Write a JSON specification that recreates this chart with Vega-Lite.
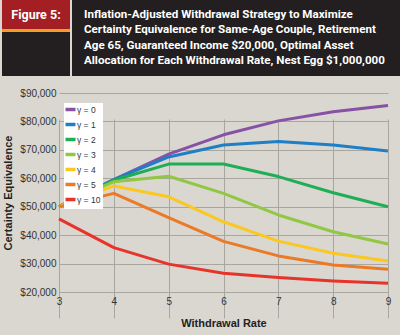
{
  "$schema": "https://vega.github.io/schema/vega-lite/v6.json",
  "background": "#d9d7d0",
  "padding": 0,
  "spacing": 0,
  "resolve": {"legend": {"color": "independent"}},
  "config": {
    "font": "Liberation Sans",
    "view": {"stroke": null},
    "axis": {"labelFont": "Liberation Sans", "labelFontSize": 10, "labelColor": "#333333", "titleFont": "Liberation Sans", "titleFontSize": 11, "titleFontWeight": "bold", "titleColor": "#222222", "ticks": false, "domain": false, "grid": true, "gridColor": "#a9a6a0", "gridOpacity": 1, "gridWidth": 1}
  },
  "vconcat": [
    {
      "spacing": 0,
      "hconcat": [
        {
          "width": 68,
          "height": 76,
          "view": {"fill": "#231f20", "stroke": null},
          "data": {"values": [{"label": "Figure 5:"}]},
          "layer": [
            {
              "mark": {"type": "bar", "color": "#a31f24"},
              "encoding": {
                "y": {"field": "label", "type": "nominal", "axis": null, "scale": {"paddingInner": 0, "paddingOuter": 0.81, "align": 0}}
              }
            },
            {
              "mark": {"type": "rule", "color": "#efa127", "strokeWidth": 3, "yOffset": 1.5},
              "encoding": {
                "y": {"field": "label", "type": "nominal", "bandPosition": 1, "axis": null}
              }
            },
            {
              "mark": {"type": "text", "color": "#ffffff", "fontWeight": "bold", "fontSize": 12.5, "font": "Roboto", "baseline": "middle"},
              "encoding": {
                "y": {"field": "label", "type": "nominal", "axis": null},
                "text": {"field": "label"}
              }
            }
          ]
        },
        {
          "width": 332,
          "height": 76,
          "view": {"fill": "#231f20", "stroke": null},
          "data": {"values": [
            {"line": 1, "text": "Inflation-Adjusted Withdrawal Strategy to Maximize"},
            {"line": 2, "text": "Certainty Equivalence for Same-Age Couple, Retirement"},
            {"line": 3, "text": "Age 65, Guaranteed Income $20,000, Optimal Asset"},
            {"line": 4, "text": "Allocation for Each Withdrawal Rate, Nest Egg $1,000,000"}
          ]},
          "mark": {"type": "text", "color": "#ffffff", "fontWeight": "bold", "fontSize": 11.6, "font": "Roboto", "align": "left", "baseline": "middle", "dx": -154},
          "encoding": {
            "y": {"field": "line", "type": "ordinal", "axis": null, "scale": {"type": "point", "padding": 1}},
            "text": {"field": "text"}
          }
        }
      ]
    },
    {
      "width": 400,
      "height": 259,
      "view": {"fill": null, "stroke": null},
      "data": {"values": [
        {"rate": 3, "gamma": "γ = 0", "ce": 50000}, {"rate": 4, "gamma": "γ = 0", "ce": 59500}, {"rate": 5, "gamma": "γ = 0", "ce": 68500}, {"rate": 6, "gamma": "γ = 0", "ce": 75300}, {"rate": 7, "gamma": "γ = 0", "ce": 80200}, {"rate": 8, "gamma": "γ = 0", "ce": 83400}, {"rate": 9, "gamma": "γ = 0", "ce": 85600},
        {"rate": 3, "gamma": "γ = 1", "ce": 50000}, {"rate": 4, "gamma": "γ = 1", "ce": 59500}, {"rate": 5, "gamma": "γ = 1", "ce": 67500}, {"rate": 6, "gamma": "γ = 1", "ce": 71700}, {"rate": 7, "gamma": "γ = 1", "ce": 72900}, {"rate": 8, "gamma": "γ = 1", "ce": 71700}, {"rate": 9, "gamma": "γ = 1", "ce": 69600},
        {"rate": 3, "gamma": "γ = 2", "ce": 50000}, {"rate": 4, "gamma": "γ = 2", "ce": 59300}, {"rate": 5, "gamma": "γ = 2", "ce": 65000}, {"rate": 6, "gamma": "γ = 2", "ce": 65000}, {"rate": 7, "gamma": "γ = 2", "ce": 60600}, {"rate": 8, "gamma": "γ = 2", "ce": 54900}, {"rate": 9, "gamma": "γ = 2", "ce": 50000},
        {"rate": 3, "gamma": "γ = 3", "ce": 50000}, {"rate": 4, "gamma": "γ = 3", "ce": 58800}, {"rate": 5, "gamma": "γ = 3", "ce": 60700}, {"rate": 6, "gamma": "γ = 3", "ce": 54700}, {"rate": 7, "gamma": "γ = 3", "ce": 47100}, {"rate": 8, "gamma": "γ = 3", "ce": 41200}, {"rate": 9, "gamma": "γ = 3", "ce": 36900},
        {"rate": 3, "gamma": "γ = 4", "ce": 50000}, {"rate": 4, "gamma": "γ = 4", "ce": 57300}, {"rate": 5, "gamma": "γ = 4", "ce": 53500}, {"rate": 6, "gamma": "γ = 4", "ce": 44700}, {"rate": 7, "gamma": "γ = 4", "ce": 37900}, {"rate": 8, "gamma": "γ = 4", "ce": 33600}, {"rate": 9, "gamma": "γ = 4", "ce": 30900},
        {"rate": 3, "gamma": "γ = 5", "ce": 50000}, {"rate": 4, "gamma": "γ = 5", "ce": 54700}, {"rate": 5, "gamma": "γ = 5", "ce": 46200}, {"rate": 6, "gamma": "γ = 5", "ce": 37800}, {"rate": 7, "gamma": "γ = 5", "ce": 32700}, {"rate": 8, "gamma": "γ = 5", "ce": 29500}, {"rate": 9, "gamma": "γ = 5", "ce": 28000},
        {"rate": 3, "gamma": "γ = 10", "ce": 45700}, {"rate": 4, "gamma": "γ = 10", "ce": 35600}, {"rate": 5, "gamma": "γ = 10", "ce": 29800}, {"rate": 6, "gamma": "γ = 10", "ce": 26600}, {"rate": 7, "gamma": "γ = 10", "ce": 25100}, {"rate": 8, "gamma": "γ = 10", "ce": 23900}, {"rate": 9, "gamma": "γ = 10", "ce": 23100}
      ]},
      "mark": {"type": "line", "strokeWidth": 3, "interpolate": "linear", "strokeJoin": "round"},
      "encoding": {
        "x": {"field": "rate", "type": "quantitative", "title": "Withdrawal Rate", "scale": {"domain": [3, 9], "nice": false, "zero": false, "range": [57, 386]}, "axis": {"values": [3, 4, 5, 6, 7, 8, 9], "format": "d", "labelPadding": 4, "titlePadding": 11, "labelFlush": false, "offset": -43}},
        "y": {"field": "ce", "type": "quantitative", "title": "Certainty Equivalence", "scale": {"domain": [20000, 90000], "nice": false, "zero": false, "range": [216, 17]}, "axis": {"values": [20000, 30000, 40000, 50000, 60000, 70000, 80000, 90000], "format": "$,.0f", "labelPadding": 3, "titlePadding": 6, "offset": -57, "labelOverlap": false}},
        "color": {
          "field": "gamma", "type": "nominal", "title": null,
          "scale": {"domain": ["γ = 0", "γ = 1", "γ = 2", "γ = 3", "γ = 4", "γ = 5", "γ = 10"], "range": ["#8751a6", "#1e7fc6", "#1eae55", "#90c843", "#fbc721", "#ea7a25", "#e8332a"]},
          "legend": {"orient": "none", "legendX": 62, "legendY": 27, "fillColor": "#ffffff", "padding": 2, "symbolType": "M-2,0H2", "symbolStrokeWidth": 3.5, "symbolSize": 25, "labelFontSize": 8.5, "labelColor": "#333333", "rowPadding": 0, "labelOffset": 2}
        },
        "order": {"field": "rate", "type": "quantitative"}
      }
    }
  ]
}
